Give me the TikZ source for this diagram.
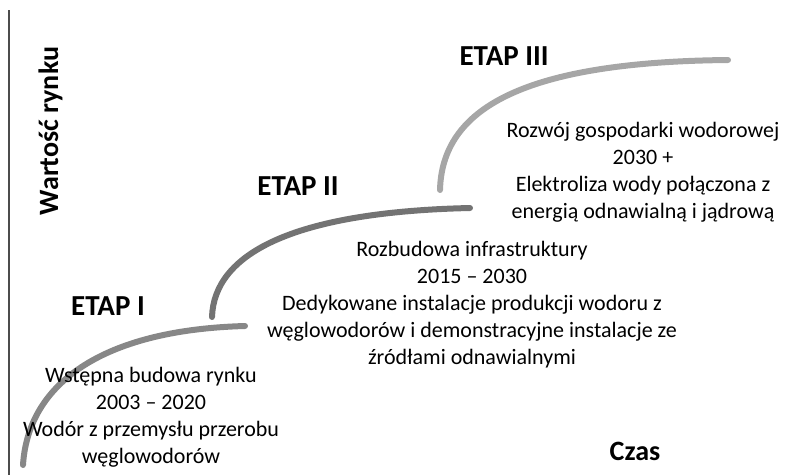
\documentclass[tikz,border=0pt]{standalone}
\usepackage{fontspec}
\setmainfont{Carlito}
\begin{document}
\begin{tikzpicture}[x=1pt,y=-1pt,
  title/.style={font=\fontsize{29}{34}\selectfont\bfseries, anchor=base, inner sep=0pt},
  desc/.style={font=\fontsize{22}{27}\selectfont, align=center, anchor=base, inner sep=0pt},
  stage/.style={line width=6pt, line cap=round}]
\useasboundingbox (0,0) rectangle (794,475);
% axis
\coordinate (axtop) at (9,10);
\coordinate (axbot) at (9,475);
\draw[line width=1.2pt, color=black!70] (axtop) -- (axbot);
\node[font=\fontsize{28}{34}\selectfont\bfseries, rotate=90, anchor=base, inner sep=0pt] (ylab) at (58,131) {Wartość rynku};
\node[font=\fontsize{28}{34}\selectfont\bfseries, anchor=base, inner sep=0pt] (czas) at (635,460) {Czas};
% stage curves
\coordinate (s1a) at (23,465); \coordinate (s1b) at (245,326);
\coordinate (s2a) at (212,317); \coordinate (s2b) at (470,208);
\coordinate (s3a) at (440,190); \coordinate (s3b) at (728,60);
\draw[stage, color=black!47] (s1a) .. controls (28,385) and (100,330) .. (s1b);
\draw[stage, color=black!55] (s2a) .. controls (214,255) and (290,212) .. (s2b);
\draw[stage, color=black!35] (s3a) .. controls (442,110) and (520,62) .. (s3b);
% titles
\node[title] (e1) at (108,315) {ETAP I};
\node[title] (e2) at (298,195) {ETAP II};
\node[title] (e3) at (504,65) {ETAP III};
% descriptions (anchor = baseline of last line)
\node[desc] (d1) at (151,463) {Wstępna budowa rynku\\2003 – 2020\\Wodór z przemysłu przerobu\\węglowodorów};
\node[desc] (d2) at (472,364) {Rozbudowa infrastruktury\\2015 – 2030\\Dedykowane instalacje produkcji wodoru z\\węglowodorów i demonstracyjne instalacje ze\\źródłami odnawialnymi};
\node[desc] (d3) at (643,218) {Rozwój gospodarki wodorowej\\2030 +\\Elektroliza wody połączona z\\energią odnawialną i jądrową};
\end{tikzpicture}
\end{document}
